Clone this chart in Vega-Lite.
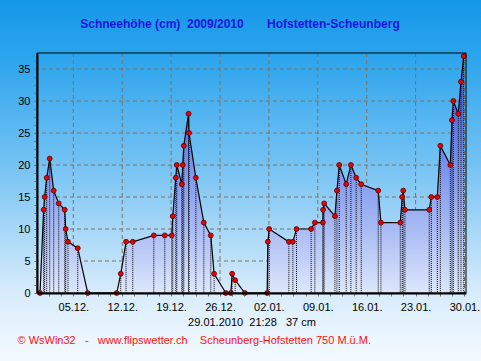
{
  "$schema": "https://vega.github.io/schema/vega-lite/v6.json",
  "width": 429,
  "height": 240,
  "autosize": {"type": "none"},
  "padding": {"left": 37, "top": 53, "right": 15, "bottom": 68},
  "background": "#e8f4fd",
  "config": {"view": {"stroke": null}, "axis": {"labelOverlap": false, "labelBound": false}},
  "title": {
    "text": "Schneehöhe (cm)\u00a0\u00a02009/2010\u00a0\u00a0\u00a0\u00a0\u00a0\u00a0\u00a0Hofstetten-Scheunberg",
    "frame": "group",
    "anchor": "middle",
    "dx": -11.5,
    "offset": -40,
    "baseline": "alphabetic",
    "font": "Liberation Sans",
    "fontSize": 12,
    "fontWeight": "bold",
    "color": "#1515e0"
  },
  "datasets": {
    "one": [{}],
    "weeks": [
      {"d": "2009-12-05T00:00"}, {"d": "2009-12-12T00:00"}, {"d": "2009-12-19T00:00"},
      {"d": "2009-12-26T00:00"}, {"d": "2010-01-02T00:00"}, {"d": "2010-01-09T00:00"},
      {"d": "2010-01-16T00:00"}, {"d": "2010-01-23T00:00"}, {"d": "2010-01-30T00:00"}
    ],
    "levels": [{"v": 5}, {"v": 10}, {"v": 15}, {"v": 20}, {"v": 25}, {"v": 30}, {"v": 35}],
    "snow": [
      {"t": "2009-11-30T05:30", "cm": 0},
      {"t": "2009-11-30T18:00", "cm": 13},
      {"t": "2009-11-30T21:30", "cm": 15},
      {"t": "2009-12-01T04:30", "cm": 18},
      {"t": "2009-12-01T14:50", "cm": 21},
      {"t": "2009-12-02T04:35", "cm": 16},
      {"t": "2009-12-02T21:50", "cm": 14},
      {"t": "2009-12-03T18:30", "cm": 13},
      {"t": "2009-12-03T21:50", "cm": 10},
      {"t": "2009-12-04T05:45", "cm": 8},
      {"t": "2009-12-05T15:10", "cm": 7},
      {"t": "2009-12-07T01:30", "cm": 0},
      {"t": "2009-12-11T05:15", "cm": 0},
      {"t": "2009-12-11T19:00", "cm": 3},
      {"t": "2009-12-12T13:10", "cm": 8},
      {"t": "2009-12-13T12:15", "cm": 8},
      {"t": "2009-12-16T12:30", "cm": 9},
      {"t": "2009-12-18T02:10", "cm": 9},
      {"t": "2009-12-19T02:20", "cm": 9},
      {"t": "2009-12-19T05:45", "cm": 12},
      {"t": "2009-12-19T16:00", "cm": 18},
      {"t": "2009-12-19T19:30", "cm": 20},
      {"t": "2009-12-20T12:40", "cm": 17},
      {"t": "2009-12-20T16:05", "cm": 20},
      {"t": "2009-12-20T19:40", "cm": 23},
      {"t": "2009-12-21T12:00", "cm": 28},
      {"t": "2009-12-21T13:30", "cm": 25},
      {"t": "2009-12-22T13:00", "cm": 18},
      {"t": "2009-12-23T16:20", "cm": 11},
      {"t": "2009-12-24T16:20", "cm": 9},
      {"t": "2009-12-25T03:50", "cm": 3},
      {"t": "2009-12-26T20:00", "cm": 0},
      {"t": "2009-12-27T13:15", "cm": 0},
      {"t": "2009-12-27T17:45", "cm": 3},
      {"t": "2009-12-28T04:05", "cm": 2},
      {"t": "2009-12-29T13:25", "cm": 0},
      {"t": "2010-01-01T18:00", "cm": 0},
      {"t": "2010-01-01T20:25", "cm": 8},
      {"t": "2010-01-02T01:00", "cm": 10},
      {"t": "2010-01-04T20:40", "cm": 8},
      {"t": "2010-01-05T10:20", "cm": 8},
      {"t": "2010-01-05T22:50", "cm": 10},
      {"t": "2010-01-08T01:10", "cm": 10},
      {"t": "2010-01-08T13:55", "cm": 11},
      {"t": "2010-01-09T17:30", "cm": 11},
      {"t": "2010-01-09T18:15", "cm": 13},
      {"t": "2010-01-09T22:00", "cm": 14},
      {"t": "2010-01-11T10:50", "cm": 12},
      {"t": "2010-01-11T17:45", "cm": 16},
      {"t": "2010-01-12T01:40", "cm": 20},
      {"t": "2010-01-13T01:40", "cm": 17},
      {"t": "2010-01-13T17:45", "cm": 20},
      {"t": "2010-01-14T12:00", "cm": 18},
      {"t": "2010-01-15T05:15", "cm": 17},
      {"t": "2010-01-17T15:40", "cm": 16},
      {"t": "2010-01-18T01:00", "cm": 11},
      {"t": "2010-01-20T19:25", "cm": 11},
      {"t": "2010-01-21T02:10", "cm": 15},
      {"t": "2010-01-21T05:35", "cm": 16},
      {"t": "2010-01-21T11:30", "cm": 13},
      {"t": "2010-01-24T23:00", "cm": 13},
      {"t": "2010-01-25T06:00", "cm": 15},
      {"t": "2010-01-26T02:40", "cm": 15},
      {"t": "2010-01-26T13:00", "cm": 23},
      {"t": "2010-01-27T23:20", "cm": 20},
      {"t": "2010-01-28T05:05", "cm": 27},
      {"t": "2010-01-28T09:40", "cm": 30},
      {"t": "2010-01-29T02:40", "cm": 28},
      {"t": "2010-01-29T12:00", "cm": 33},
      {"t": "2010-01-29T21:28", "cm": 37}
    ]
  },
  "layer": [
    {
      "data": {"name": "one"},
      "mark": {
        "type": "rect",
        "fill": {
          "gradient": "linear", "x1": 0, "y1": 0, "x2": 0, "y2": 1,
          "stops": [
            {"offset": 0, "color": "#1597e8"},
            {"offset": 0.15, "color": "#2aa4ed"},
            {"offset": 0.45, "color": "#74c2f3"},
            {"offset": 0.8, "color": "#d6ebfb"},
            {"offset": 1, "color": "#f6fbff"}
          ]
        }
      },
      "encoding": {
        "x": {
          "datum": {"year": 2009, "month": 11, "date": 24},
          "type": "temporal",
          "scale": {"domain": [{"year": 2009, "month": 11, "date": 29, "hours": 19, "minutes": 12}, {"year": 2010, "month": 1, "date": 30, "hours": 5, "minutes": 16}]},
          "axis": {
            "zindex": 1,
            "grid": false,
            "tickCount": 500,
            "title": "29.01.2010\u00a0\u00a021:28\u00a0\u00a0\u00a037 cm",
            "titleFont": "Liberation Sans",
            "titleFontSize": 11,
            "titleFontWeight": "normal",
            "titleColor": "#000000",
            "titleBaseline": "middle",
            "titleY": 29,
            "values": [
              {"year": 2009, "month": 12, "date": 1, "hours": 12},
              {"year": 2009, "month": 12, "date": 3, "hours": 6},
              {"year": 2009, "month": 12, "date": 5, "hours": 0},
              {"year": 2009, "month": 12, "date": 6, "hours": 18},
              {"year": 2009, "month": 12, "date": 8, "hours": 12},
              {"year": 2009, "month": 12, "date": 10, "hours": 6},
              {"year": 2009, "month": 12, "date": 12, "hours": 0},
              {"year": 2009, "month": 12, "date": 13, "hours": 18},
              {"year": 2009, "month": 12, "date": 15, "hours": 12},
              {"year": 2009, "month": 12, "date": 17, "hours": 6},
              {"year": 2009, "month": 12, "date": 19, "hours": 0},
              {"year": 2009, "month": 12, "date": 20, "hours": 18},
              {"year": 2009, "month": 12, "date": 22, "hours": 12},
              {"year": 2009, "month": 12, "date": 24, "hours": 6},
              {"year": 2009, "month": 12, "date": 26, "hours": 0},
              {"year": 2009, "month": 12, "date": 27, "hours": 18},
              {"year": 2009, "month": 12, "date": 29, "hours": 12},
              {"year": 2009, "month": 12, "date": 31, "hours": 6},
              {"year": 2010, "month": 1, "date": 2, "hours": 0},
              {"year": 2010, "month": 1, "date": 3, "hours": 18},
              {"year": 2010, "month": 1, "date": 5, "hours": 12},
              {"year": 2010, "month": 1, "date": 7, "hours": 6},
              {"year": 2010, "month": 1, "date": 9, "hours": 0},
              {"year": 2010, "month": 1, "date": 10, "hours": 18},
              {"year": 2010, "month": 1, "date": 12, "hours": 12},
              {"year": 2010, "month": 1, "date": 14, "hours": 6},
              {"year": 2010, "month": 1, "date": 16, "hours": 0},
              {"year": 2010, "month": 1, "date": 17, "hours": 18},
              {"year": 2010, "month": 1, "date": 19, "hours": 12},
              {"year": 2010, "month": 1, "date": 21, "hours": 6},
              {"year": 2010, "month": 1, "date": 23, "hours": 0},
              {"year": 2010, "month": 1, "date": 24, "hours": 18},
              {"year": 2010, "month": 1, "date": 26, "hours": 12},
              {"year": 2010, "month": 1, "date": 28, "hours": 6},
              {"year": 2010, "month": 1, "date": 30, "hours": 0}
            ],
            "labelExpr": "hours(datum.value) === 0 && day(datum.value) === 6 ? timeFormat(datum.value, '%d.%m.') : ''",
            "labelOverlap": false,
            "labelBound": false,
            "labelFont": "Liberation Sans",
            "labelFontSize": 11,
            "labelColor": "#000000",
            "labelPadding": 5,
            "tickColor": "#707070",
            "tickSize": 3,
            "domainColor": "#000000",
            "domainWidth": 2
          }
        },
        "x2": {"datum": {"year": 2010, "month": 2, "date": 2}},
        "y": {
          "datum": 45.78125,
          "type": "quantitative",
          "scale": {"domain": [0, 37.5], "nice": false, "zero": false},
          "axis": {
            "zindex": 1,
            "grid": false,
            "tickCount": 500,
            "values": [0, 1.25, 2.5, 3.75, 5, 6.25, 7.5, 8.75, 10, 11.25, 12.5, 13.75, 15, 16.25, 17.5, 18.75, 20, 21.25, 22.5, 23.75, 25, 26.25, 27.5, 28.75, 30, 31.25, 32.5, 33.75, 35, 36.25],
            "labelExpr": "datum.value % 5 === 0 ? format(datum.value, 'd') : ''",
            "labelOverlap": false,
            "labelBound": false,
            "labelFont": "Liberation Sans",
            "labelFontSize": 11,
            "labelColor": "#000000",
            "labelPadding": 4,
            "tickColor": "#707070",
            "tickSize": 3,
            "domainColor": "#000000",
            "domainWidth": 2,
            "title": "©\u00a0WsWin32\u00a0\u00a0\u00a0-\u00a0\u00a0\u00a0www.flipswetter.ch\u00a0\u00a0\u00a0\u00a0Scheunberg-Hofstetten 750 M.ü.M.",
            "titleAngle": 0,
            "titleAlign": "left",
            "titleBaseline": "middle",
            "titleX": -20,
            "titleY": 287,
            "titleFont": "Liberation Sans",
            "titleFontSize": 11,
            "titleFontWeight": "normal",
            "titleColor": "#ff1010"
          }
        },
        "y2": {"datum": -11}
      }
    },
    {
      "data": {"name": "weeks"},
      "mark": {"type": "rule", "color": "#7f7266", "strokeWidth": 1, "strokeDash": [4, 3]},
      "encoding": {"x": {"field": "d", "type": "temporal"}}
    },
    {
      "data": {"name": "levels"},
      "mark": {"type": "rule", "color": "#7f7266", "strokeWidth": 1, "strokeDash": [4, 3]},
      "encoding": {"y": {"field": "v", "type": "quantitative"}}
    },
    {
      "data": {"name": "snow"},
      "mark": {
        "type": "area",
        "fill": {
          "gradient": "linear", "x1": 0, "y1": 0, "x2": 0, "y2": 1,
          "stops": [
            {"offset": 0, "color": "#2d4de2"},
            {"offset": 0.25, "color": "#5372e8"},
            {"offset": 0.5, "color": "#7f98ee"},
            {"offset": 0.75, "color": "#adbef4"},
            {"offset": 1, "color": "#dde7fb"}
          ]
        }
      },
      "encoding": {
        "x": {"field": "t", "type": "temporal"},
        "y": {"field": "cm", "type": "quantitative"}
      }
    },
    {
      "data": {"name": "snow"},
      "mark": {"type": "rule", "color": "#000000", "strokeWidth": 1, "strokeDash": [1, 1]},
      "encoding": {
        "x": {"field": "t", "type": "temporal"},
        "y": {"field": "cm", "type": "quantitative"},
        "y2": {"datum": 0}
      }
    },
    {
      "data": {"name": "snow"},
      "mark": {"type": "line", "color": "#000000", "strokeWidth": 1.2},
      "encoding": {
        "x": {"field": "t", "type": "temporal"},
        "y": {"field": "cm", "type": "quantitative"}
      }
    },
    {
      "data": {"name": "snow"},
      "mark": {"type": "point", "filled": true, "fill": "#ee0000", "stroke": "#500000", "strokeWidth": 0.8, "size": 24, "opacity": 1},
      "encoding": {
        "x": {"field": "t", "type": "temporal"},
        "y": {"field": "cm", "type": "quantitative"}
      }
    },
    {
      "data": {"name": "one"},
      "mark": {"type": "rect", "filled": false, "stroke": "#000000", "strokeWidth": 1},
      "encoding": {
        "x": {"datum": {"year": 2009, "month": 11, "date": 29, "hours": 19, "minutes": 12}, "type": "temporal"},
        "x2": {"datum": {"year": 2010, "month": 1, "date": 30, "hours": 5, "minutes": 16}},
        "y": {"datum": 37.5, "type": "quantitative"},
        "y2": {"datum": 0}
      }
    }
  ]
}
